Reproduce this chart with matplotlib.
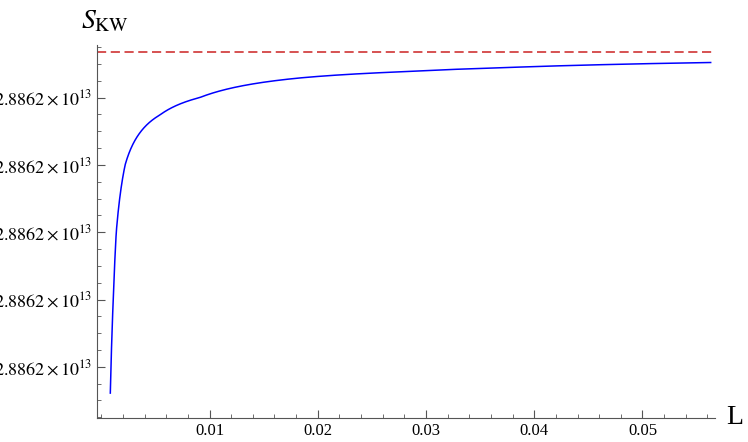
import matplotlib
matplotlib.use("Agg")
import matplotlib.pyplot as plt
import numpy as np
from matplotlib.ticker import MultipleLocator

plt.rcParams["font.family"] = "Liberation Serif"
plt.rcParams["mathtext.fontset"] = "stix"

L_vals = [0.00083, 0.0011, 0.00138, 0.0022, 0.00358, 0.0054, 0.0091, 0.0183, 0.0274, 0.0366, 0.0563]
S_vals = [0.61, 2.0, 3.0, 4.0, 4.48, 4.74, 5.0, 5.29, 5.38, 5.44, 5.52]
S_limit = 5.68
y_ticks = [1, 2, 3, 4, 5]
y_labels = [r"$2.8862\times10^{13}$"] * 5
x_ticks = [0.01, 0.02, 0.03, 0.04, 0.05]
x_labels = ["0.01", "0.02", "0.03", "0.04", "0.05"]

fig = plt.figure(figsize=(7.48, 4.42), dpi=100)
ax = fig.add_axes([97/748, 24/442, (715-97)/748, (418-45)/442])
ax.set_position([97/748, (442-418)/442, (715-97)/748, (418-45)/442])
xs = np.linspace(L_vals[0], L_vals[-1], 2000)
u = -1.0 / np.array(L_vals)
ys = np.interp(-1.0 / xs, u, S_vals)
ax.plot(xs, ys, color="blue", lw=1.1)
ax.axhline(S_limit, color="#cc2222", lw=1.1, dashes=(6, 3))
ax.set_xlim(-0.0004, 0.0567)
ax.set_ylim(0.24, 5.78)
for s in ["top", "right"]:
    ax.spines[s].set_visible(False)
for s in ["left", "bottom"]:
    ax.spines[s].set_color("#555555")
ax.set_xticks(x_ticks)
ax.set_xticklabels(x_labels, fontsize=12)
ax.set_yticks(y_ticks)
ax.set_yticklabels(y_labels, fontsize=13)
ax.xaxis.set_minor_locator(MultipleLocator(0.002))
ax.yaxis.set_minor_locator(MultipleLocator(0.25))
ax.tick_params(direction="in", length=6, color="#555555")
ax.tick_params(which="minor", direction="in", length=3, color="#555555")
fig.text(105/748, 1 - 28/442, r"$S_{\mathrm{KW}}$", fontsize=20, ha="center", va="baseline")
fig.text(735/748, 1 - 418/442, "L", fontsize=20, ha="center", va="center")
fig.savefig("out.png", dpi=100)
